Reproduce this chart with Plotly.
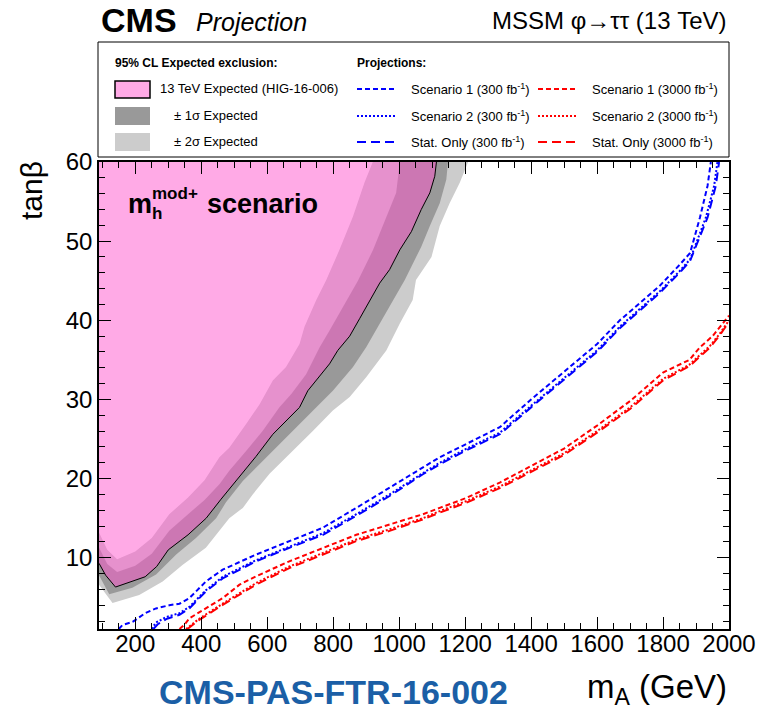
import plotly.graph_objects as go

# ---------------- data ----------------
# 13 TeV expected exclusion contour (HIG-16-006)
exp_x = [90, 110, 140, 190, 230, 265, 300, 360, 415, 460, 516, 566, 617, 657, 698, 723, 789, 814, 850, 880, 900, 941, 971, 1002, 1037, 1067, 1093, 1108, 1113]
exp_y = [9.3, 7.8, 6.3, 7.0, 7.6, 8.9, 11.0, 12.9, 15.0, 17.4, 20.3, 22.8, 25.6, 27.3, 29.0, 31.1, 34.5, 36.2, 38.0, 40.2, 41.7, 44.7, 46.4, 48.9, 51.2, 54.0, 56.1, 58.2, 60.0]
# -1 sigma (inner) and +1 sigma (outer)
m1_x = [90, 115, 145, 200, 250, 303, 360, 410, 455, 485, 536, 586, 637, 673, 718, 759, 789, 829, 875, 921, 961, 991, 1002]
m1_y = [11.3, 9.2, 8.2, 9.0, 10.5, 13.4, 15.5, 17.3, 19.3, 21.0, 23.5, 26.0, 29.0, 30.7, 33.2, 36.6, 38.7, 41.7, 45.0, 48.9, 53.1, 56.1, 60.0]
p1_x = [90, 121, 191, 263, 324, 384, 445, 475, 526, 586, 637, 698, 749, 799, 860, 900, 941, 981, 1017, 1067, 1093, 1123, 1143, 1148]
p1_y = [7.8, 5.4, 6.2, 7.9, 10.4, 12.5, 15.0, 17.0, 19.7, 22.2, 24.4, 26.9, 29.0, 31.1, 34.1, 36.6, 39.6, 42.5, 45.1, 49.3, 51.9, 54.8, 57.8, 60.0]
# -2 sigma (inner) and +2 sigma (outer)
m2_x = [90, 115, 145, 200, 250, 303, 360, 410, 455, 485, 536, 577, 617, 657, 698, 713, 748, 779, 819, 860, 895, 920]
m2_y = [13.2, 11.0, 9.8, 10.8, 12.5, 15.5, 17.6, 19.8, 22.7, 23.9, 26.9, 29.4, 32.4, 34.1, 37.0, 39.2, 42.5, 45.1, 48.9, 53.1, 57.4, 60.0]
p2_x = [90, 131, 212, 283, 343, 414, 485, 526, 556, 607, 668, 739, 799, 850, 900, 961, 1002, 1041, 1051, 1098, 1123, 1153, 1184, 1209]
p2_y = [6.6, 4.3, 5.3, 7.0, 9.1, 11.25, 15.0, 16.3, 18.0, 20.6, 23.1, 26.05, 28.6, 30.3, 32.8, 36.2, 39.6, 42.55, 45.1, 48.0, 51.9, 54.8, 57.4, 60.0]

# Projections 300 fb-1
b_s1_x = [150, 161, 192, 230, 263, 303, 334, 364, 414, 465, 566, 667, 769, 870, 971, 1072, 1123, 1200, 1305, 1400, 1487, 1600, 1669, 1750, 1791, 1850, 1882, 1912, 1935, 1945]
b_s1_y = [1.0, 1.5, 1.9, 3.0, 3.6, 4.0, 4.2, 4.9, 7.0, 8.5, 10.4, 12.1, 13.8, 16.3, 18.85, 21.4, 22.7, 24.3, 26.5, 30.0, 33.0, 37.0, 40.0, 43.0, 44.4, 47.0, 48.5, 53.0, 57.0, 60.0]
b_s2_x = [250, 262, 293, 334, 364, 414, 465, 566, 667, 769, 870, 971, 1072, 1123, 1200, 1305, 1400, 1487, 1600, 1669, 1750, 1791, 1850, 1882, 1930, 1955, 1965]
b_s2_y = [1.0, 1.8, 2.5, 3.0, 3.8, 5.9, 7.6, 9.7, 11.4, 13.1, 15.5, 18.0, 20.7, 22.0, 23.7, 25.8, 29.2, 32.2, 36.2, 39.2, 42.2, 43.7, 46.2, 47.7, 53.0, 57.0, 60.0]
b_st_x = [255, 268, 296, 334, 364, 414, 465, 566, 667, 769, 870, 971, 1072, 1123, 1200, 1305, 1400, 1487, 1600, 1669, 1750, 1791, 1850, 1882, 1935, 1960, 1970]
b_st_y = [1.0, 1.6, 2.3, 2.8, 3.6, 5.75, 7.4, 9.55, 11.25, 12.9, 15.3, 17.8, 20.55, 21.8, 23.5, 25.6, 29.0, 32.0, 36.0, 39.0, 42.0, 43.5, 46.0, 47.5, 53.0, 57.0, 60.0]

# Projections 3000 fb-1
r_s1_x = [334, 350, 364, 414, 465, 516, 566, 667, 769, 870, 971, 1072, 1123, 1200, 1305, 1400, 1500, 1600, 1700, 1800, 1880, 1912, 1950, 2000]
r_s1_y = [1.0, 1.6, 2.35, 3.6, 4.9, 6.6, 7.65, 9.55, 11.25, 12.9, 14.2, 15.5, 16.3, 17.5, 19.5, 21.6, 23.8, 26.7, 29.8, 33.4, 35.0, 36.6, 38.0, 40.6]
r_s2_x = [354, 394, 465, 516, 566, 667, 769, 870, 971, 1072, 1123, 1200, 1305, 1400, 1500, 1600, 1700, 1800, 1880, 1943, 1970, 2000]
r_s2_y = [1.0, 2.3, 4.2, 5.5, 6.8, 8.9, 10.6, 12.3, 13.6, 15.0, 15.9, 17.1, 19.0, 21.0, 23.2, 26.0, 29.0, 32.6, 34.4, 36.8, 38.2, 40.0]
r_st_x = [358, 394, 465, 516, 566, 667, 769, 870, 971, 1072, 1123, 1200, 1305, 1400, 1500, 1600, 1700, 1800, 1880, 1943, 1970, 2000]
r_st_y = [1.0, 2.15, 4.05, 5.3, 6.6, 8.7, 10.4, 12.1, 13.4, 14.85, 15.7, 16.9, 18.8, 20.8, 23.0, 25.8, 28.8, 32.4, 34.2, 36.6, 38.0, 39.8]

x_range = [90, 2000]
y_range = [1, 60]

# ---------------- styles ----------------
FONT = "Liberation Sans"
PINK = "rgba(255,85,205,0.5)"
PINK_SOLID = "#FFAAE6"
DGRAY = "#999999"
LGRAY = "#CCCCCC"
BLUE = "#0000FF"
RED = "#FF0000"
DASH_S1 = "5px,3px"
DASH_S2 = "2px,2px"
DASH_ST = "9px,5px"

L, R, T, B = 99, 729, 162, 629
W, H = 776, 714


def px(x):
    return (x - L) / (R - L)


def py(y):
    return (B - y) / (B - T)


fig = go.Figure()

# +-2 sigma band
fig.add_trace(go.Scatter(x=m2_x + p2_x[::-1], y=m2_y + p2_y[::-1], fill="toself",
                         fillcolor=LGRAY, line=dict(width=0), mode="lines",
                         hoverinfo="skip", showlegend=False))
# +-1 sigma band
fig.add_trace(go.Scatter(x=m1_x + p1_x[::-1], y=m1_y + p1_y[::-1], fill="toself",
                         fillcolor=DGRAY, line=dict(width=0), mode="lines",
                         hoverinfo="skip", showlegend=False))
# expected exclusion (pink, transparent)
fig.add_trace(go.Scatter(x=exp_x + [x_range[0]], y=exp_y + [y_range[1]], fill="toself",
                         fillcolor=PINK, line=dict(width=0), mode="lines",
                         hoverinfo="skip", showlegend=False))
fig.add_trace(go.Scatter(x=exp_x, y=exp_y, mode="lines",
                         line=dict(color="black", width=1), showlegend=False))

for xs, ys, col, dash in [
    (b_s1_x, b_s1_y, BLUE, DASH_S1), (b_s2_x, b_s2_y, BLUE, DASH_S2), (b_st_x, b_st_y, BLUE, DASH_ST),
    (r_s1_x, r_s1_y, RED, DASH_S1), (r_s2_x, r_s2_y, RED, DASH_S2), (r_st_x, r_st_y, RED, DASH_ST),
]:
    fig.add_trace(go.Scatter(x=xs, y=ys, mode="lines",
                             line=dict(color=col, width=2, dash=dash), showlegend=False))

axis_common = dict(showgrid=False, zeroline=False, showline=True, linecolor="black", linewidth=1.5,
                   mirror="ticks", ticks="inside", ticklen=12, tickwidth=1, tickcolor="black",
                   tickfont=dict(family=FONT, size=24, color="black"))
fig.update_xaxes(range=x_range, tick0=0, dtick=200, ticklabelstandoff=-8,
                 minor=dict(dtick=50, ticklen=6, ticks="inside", tickcolor="black", tickwidth=1),
                 **axis_common)
fig.update_yaxes(range=y_range, tick0=0, dtick=10,
                 minor=dict(dtick=2, ticklen=6, ticks="inside", tickcolor="black", tickwidth=1),
                 **axis_common)

shapes = []
ann = []


def text(x, y, s, size, xanchor="left", color="black", angle=0):
    ann.append(dict(x=px(x), y=py(y), xref="paper", yref="paper", text=s, showarrow=False,
                    xanchor=xanchor, yanchor="middle", textangle=angle,
                    font=dict(family=FONT, size=size, color=color)))


# header
text(99, 20, "<b>CMS</b>", 34)
text(194, 22, "<i>Projection</i>", 25)
text(729, 21, "MSSM \u03c6\u2192\u03c4\u03c4 (13 TeV)", 24, xanchor="right")

# legend box
shapes.append(dict(type="rect", xref="paper", yref="paper", x0=px(98), x1=px(729), y0=py(157), y1=py(42),
                   line=dict(color="black", width=1), fillcolor="white"))
text(113, 63, "<b>95% CL Expected exclusion:</b>", 12)
text(355, 63, "<b>Projections:</b>", 12)

boxes = [(81, 98, PINK_SOLID, 1.5), (107, 125, DGRAY, 0), (133, 151, LGRAY, 0)]
for y0, y1, c, lw in boxes:
    shapes.append(dict(type="rect", xref="paper", yref="paper", x0=px(115), x1=px(150), y0=py(y1), y1=py(y0),
                       line=dict(color="black", width=lw), fillcolor=c))
text(158, 89, "13 TeV Expected (HIG-16-006)", 13)
text(172, 116, "\u00b1 1\u03c3 Expected", 13)
text(172, 142, "\u00b1 2\u03c3 Expected", 13)

rows = [(89, DASH_S1, "Scenario 1"), (116, DASH_S2, "Scenario 2"), (142, DASH_ST, "Stat. Only")]
for yy, dash, lab in rows:
    shapes.append(dict(type="line", xref="paper", yref="paper", x0=px(357), x1=px(395), y0=py(yy), y1=py(yy),
                       line=dict(color=BLUE, width=2, dash=dash)))
    text(409, yy, lab + " (300 fb<sup>-1</sup>)", 13)
    shapes.append(dict(type="line", xref="paper", yref="paper", x0=px(538), x1=px(577), y0=py(yy), y1=py(yy),
                       line=dict(color=RED, width=2, dash=dash)))
    text(590, yy, lab + " (3000 fb<sup>-1</sup>)", 13)

# scenario label
text(126, 204, "<b>m</b>", 27)
text(150, 194, "<b>mod+</b>", 17)
text(150, 214, "<b>h</b>", 17)
text(205, 204, "<b>scenario</b>", 27)

# axis titles
text(31, 191, "tan\u03b2", 30, xanchor="center", angle=-90)
text(729, 689, "m<sub>A</sub> (GeV)", 33, xanchor="right")

# footer
text(157, 692, "<b>CMS-PAS-FTR-16-002</b>", 34, color="#1B5FA6")

fig.update_layout(width=W, height=H, margin=dict(l=L, r=W - R, t=T, b=H - B),
                  plot_bgcolor="white", paper_bgcolor="white", showlegend=False,
                  shapes=shapes, annotations=ann, font=dict(family=FONT))

fig.write_html("out.html", config={"displayModeBar": False},
               post_script="document.body.style.margin='0px';")
